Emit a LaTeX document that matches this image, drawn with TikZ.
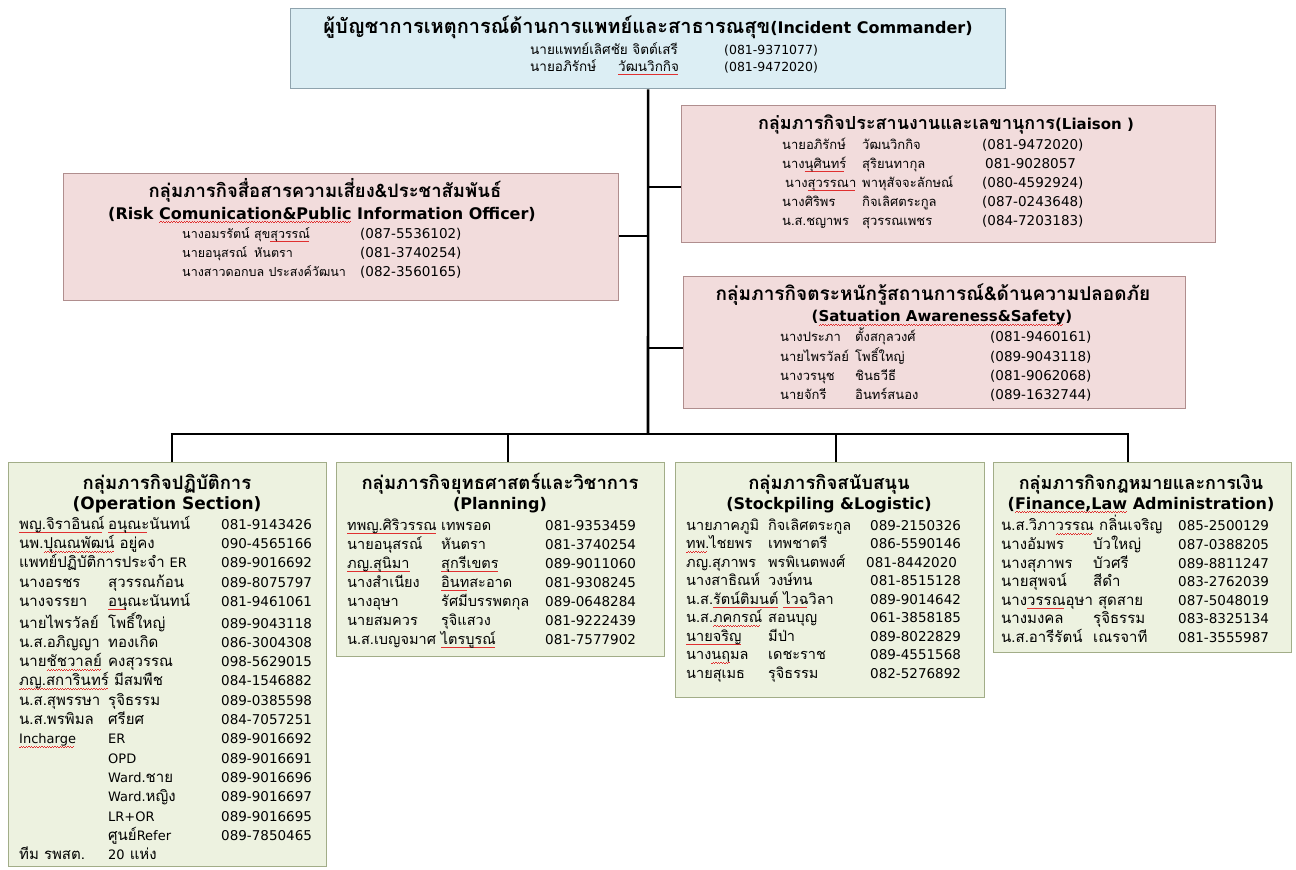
\documentclass[tikz,border=0pt]{standalone}
\usepackage{fontspec}
\setmainfont[Script=Thai]{Loma}
\newfontfamily\lf{DejaVu Sans}
\usepackage{array}
\definecolor{bluefill}{HTML}{DCEEF4}
\definecolor{blueline}{HTML}{8FA3AD}
\definecolor{pinkfill}{HTML}{F2DCDC}
\definecolor{pinkline}{HTML}{B08E8E}
\definecolor{greenfill}{HTML}{EDF2E0}
\definecolor{greenline}{HTML}{A2AD88}
\definecolor{squig}{HTML}{E03030}
\newsavebox\sqbox
\newcommand\sq[1]{\sbox\sqbox{#1}\leavevmode\rlap{\textcolor{squig}{\leaders\hbox{\rule[-3.8pt]{1.3pt}{0.8pt}\rule[-3.2pt]{1.3pt}{0.8pt}}\hskip\wd\sqbox}}\usebox\sqbox}
\newcommand\phfont{\lf\fontsize{13.5}{15}\selectfont}
\newcommand\lt[1]{{\lf\fontsize{13}{15}\selectfont #1}}
\newcolumntype{P}{>{\phfont}l}
\tikzset{
  box/.style={draw, line width=1.3pt, inner sep=0pt, anchor=north west},
  bluebox/.style={box, fill=bluefill, draw=blueline},
  pinkbox/.style={box, fill=pinkfill, draw=pinkline},
  greenbox/.style={box, fill=greenfill, draw=greenline},
  conn/.style={line width=2.6pt, black},
  hd/.style={anchor=base, inner sep=0pt},
  tbl/.style={anchor=north west, inner sep=0pt, align=left},
}
\begin{document}
\begin{tikzpicture}[x=1pt,y=-1pt]
\useasboundingbox (0,0) rectangle (1296,870);
\fill[white] (0,0) rectangle (1296,870);

% ---------- boxes ----------
\node[bluebox, minimum width=715pt, minimum height=80pt] (ic) at (290,8) {};
\node[pinkbox, minimum width=534pt, minimum height=137pt] (liaison) at (681,105) {};
\node[pinkbox, minimum width=555pt, minimum height=127pt] (risk) at (63,173) {};
\node[pinkbox, minimum width=502pt, minimum height=132pt] (safety) at (683,276) {};
\node[greenbox, minimum width=318pt, minimum height=404pt] (ops) at (8,462) {};
\node[greenbox, minimum width=328pt, minimum height=194pt] (plan) at (336,462) {};
\node[greenbox, minimum width=309pt, minimum height=235pt] (stock) at (675,462) {};
\node[greenbox, minimum width=298pt, minimum height=190pt] (fin) at (993,462) {};

% ---------- connectors ----------
\coordinate (bus) at (648,434);
\coordinate (jL) at (648,187);
\coordinate (jR) at (648,236);
\coordinate (jS) at (648,348);
\coordinate (d1) at (172,434);
\coordinate (d2) at (508,434);
\coordinate (d3) at (836,434);
\coordinate (d4) at (1128,434);
\draw[conn] (ic.south) -- (bus);
\draw[conn] (jL) -- (jL -| liaison.west);
\draw[conn] (jR) -- (jR -| risk.east);
\draw[conn] (jS) -- (jS -| safety.west);
\draw[conn] ([xshift=-1.3pt]d1) -- ([xshift=1.3pt]d4);
\draw[conn] (d1) -- (d1 |- ops.north);
\draw[conn] (d2) -- (d2 |- plan.north);
\draw[conn] (d3) -- (d3 |- stock.north);
\draw[conn] (d4) -- (d4 |- fin.north);

% ---------- Incident commander ----------
\node[hd] (icT) at (648,33) {{\bfseries\fontsize{20}{22}\selectfont ผู้บัญชาการเหตุการณ์ด้านการแพทย์และสาธารณสุข}{\lf\bfseries\fontsize{16}{18}\selectfont(Incident Commander)}};
\node[tbl, font=\fontsize{13.5}{16}\selectfont] (icR) at (530,42.8) {%
\begin{tabular}{@{}p{88pt}@{}p{106pt}@{}>{\lf\fontsize{12.5}{14}\selectfont}l@{}}
\multicolumn{2}{@{}l@{}}{นายแพทย์เลิศชัย จิตต์เสรี} & (081-9371077)\\
นายอภิรักษ์ & \sq{วัฒนวิกกิจ} & (081-9472020)
\end{tabular}};

% ---------- Liaison ----------
\node[hd] (liT) at (946,129) {{\bfseries\fontsize{18}{20}\selectfont กลุ่มภารกิจประสานงานและเลขานุการ}{\lf\bfseries\fontsize{15}{17}\selectfont(Liaison )}};
\node[tbl, font=\fontsize{13}{19}\selectfont] (liR) at (782,135.7) {%
\begin{tabular}{@{}p{80pt}@{}p{120pt}@{}P@{}}
นายอภิรักษ์ & วัฒนวิกกิจ & (081-9472020)\\
นาง\sq{นุศินทร์} & สุริยนทากุล & \hspace*{3pt}081-9028057\\
\hspace*{3pt}นาง\sq{สุวรรณา} & พาหุสัจจะลักษณ์ & (080-4592924)\\
นางศิริพร & กิจเลิศตระกูล & (087-0243648)\\
น.ส.ชญาพร & สุวรรณเพชร & (084-7203183)
\end{tabular}};

% ---------- Risk ----------
\node[hd] (rkT) at (325,197.5) {\bfseries\fontsize{18.5}{20}\selectfont กลุ่มภารกิจสื่อสารความเสี่ยง\&ประชาสัมพันธ์};
\node[hd] (rkS) at (322,219) {\lf\bfseries\fontsize{16}{18}\selectfont (Risk \sq{Comunication\&Public} Information Officer)};
\node[tbl, font=\fontsize{12.5}{19}\selectfont] (rkR) at (182,224.7) {%
\begin{tabular}{@{}p{72pt}@{}p{106pt}@{}P@{}}
นางอมรรัตน์ & สุข\sq{สุวรรณ์} & (087-5536102)\\
นายอนุสรณ์ & หันตรา & (081-3740254)\\
\multicolumn{2}{@{}l@{}}{นางสาวดอกบล ประสงค์วัฒนา} & (082-3560165)
\end{tabular}};

% ---------- Safety ----------
\node[hd] (sfT) at (933,300) {\bfseries\fontsize{19}{21}\selectfont กลุ่มภารกิจตระหนักรู้สถานการณ์\&ด้านความปลอดภัย};
\node[hd] (sfS) at (942,321.5) {\lf\bfseries\fontsize{15}{17}\selectfont (\sq{Satuation Awareness\&Safety})};
\node[tbl, font=\fontsize{13}{19.3}\selectfont] (sfR) at (780,327.5) {%
\begin{tabular}{@{}p{75pt}@{}p{135pt}@{}P@{}}
นางประภา & ตั้งสกุลวงศ์ & (081-9460161)\\
นายไพรวัลย์ & โพธิ์ใหญ่ & (089-9043118)\\
นางวรนุช & ชินธวีธี & (081-9062068)\\
นายจักรี & อินทร์สนอง & (089-1632744)
\end{tabular}};

% ---------- bottom boxes ----------
\node[hd] (opT) at (167,489) {\bfseries\fontsize{18.5}{20}\selectfont กลุ่มภารกิจปฏิบัติการ};
\node[hd] (opS) at (167,509) {\lf\bfseries\fontsize{17}{19}\selectfont (Operation Section)};
\node[tbl, font=\fontsize{15}{19.3}\selectfont] (opR) at (19,515.5) {%
\begin{tabular}{@{}p{89pt}@{}p{113pt}@{}P@{}}
\sq{พญ.จิราอินณ์} & \sq{อนุณะ}นันทน์ & 081-9143426\\
\multicolumn{2}{@{}l@{}}{นพ.\sq{ปุณณพัฒน์} อยู่คง} & 090-4565166\\
\multicolumn{2}{@{}l@{}}{แพทย์ปฏิบัติการประจำ \lt{ER}} & 089-9016692\\
นางอรชร & สุวรรณก้อน & 089-8075797\\
นางจรรยา & \sq{อนุ}ณะนันทน์ & 081-9461061\\
นายไพรวัลย์ & โพธิ์ใหญ่ & 089-9043118\\
น.ส.อภิญญา & ทองเกิด & 086-3004308\\
นาย\sq{ชัชวาลย์} & คงสุวรรณ & 098-5629015\\
\multicolumn{2}{@{}l@{}}{\sq{ภญ.สการินทร์} มีสมพืช} & 084-1546882\\
น.ส.สุพรรษา & รุจิธรรม & 089-0385598\\
น.ส.พรพิมล & ศรียศ & 084-7057251\\
\sq{\lt{Incharge}} & \lt{ER} & 089-9016692\\
 & \lt{OPD} & 089-9016691\\
 & \lt{Ward.}ชาย & 089-9016696\\
 & \lt{Ward.}หญิง & 089-9016697\\
 & \lt{LR+OR} & 089-9016695\\
 & ศูนย์\lt{Refer} & 089-7850465\\
ทีม รพสต. & \lt{20} แห่ง &
\end{tabular}};

\node[hd] (plT) at (500,489) {\bfseries\fontsize{18.5}{20}\selectfont กลุ่มภารกิจยุทธศาสตร์และวิชาการ};
\node[hd] (plS) at (500,509) {\lf\bfseries\fontsize{16}{18}\selectfont (Planning)};
\node[tbl, font=\fontsize{14.5}{19}\selectfont] (plR) at (347,516.7) {%
\begin{tabular}{@{}p{94pt}@{}p{104pt}@{}P@{}}
\sq{ทพญ.ศิริวรรณ} & เทพรอด & 081-9353459\\
นายอนุสรณ์ & หันตรา & 081-3740254\\
\sq{ภญ.สุนิมา} & \sq{สุกรีเขตร} & 089-9011060\\
นางสำเนียง & \sq{อินท}สะอาด & 081-9308245\\
นางอุษา & รัศมีบรรพตกุล & 089-0648284\\
นายสมควร & รุจิแสวง & 081-9222439\\
\multicolumn{2}{@{}l@{}}{น.ส.เบญจมาศ \sq{ไตรบูรณ์}} & 081-7577902
\end{tabular}};

\node[hd] (stT) at (829,489) {\bfseries\fontsize{18.5}{20}\selectfont กลุ่มภารกิจสนับสนุน};
\node[hd] (stS) at (829,509) {\lf\bfseries\fontsize{16}{18}\selectfont (Stockpiling \&Logistic)};
\node[tbl, font=\fontsize{14.5}{18.5}\selectfont] (stR) at (686,517.05) {%
\begin{tabular}{@{}p{82pt}@{}p{102pt}@{}P@{}}
นายภาคภูมิ & กิจเลิศตระกูล & 089-2150326\\
\sq{ทพ.}ไชยพร & เทพชาตรี & 086-5590146\\
ภญ.สุภาพร & พรพิเนตพงศ์ & \hspace*{-4pt}081-8442020\\
นางสาธิณห์ & วงษ์ทน & 081-8515128\\
\multicolumn{2}{@{}l@{}}{น.ส.\sq{รัตน์ติมนต์} \sq{ไวฉ}วิลา} & 089-9014642\\
น.ส.\sq{ภคกรณ์} & สอนบุญ & 061-3858185\\
\sq{นายจริญ} & มีป่า & 089-8022829\\
นาง\sq{นฤ}มล & เดชะราช & 089-4551568\\
นายสุเมธ & รุจิธรรม & 082-5276892
\end{tabular}};

\node[hd] (fnT) at (1141,489) {\bfseries\fontsize{18}{20}\selectfont กลุ่มภารกิจกฎหมายและการเงิน};
\node[hd] (fnS) at (1141,509) {\lf\bfseries\fontsize{16}{18}\selectfont (\sq{Finance,Law} Administration)};
\node[tbl, font=\fontsize{15}{18.5}\selectfont] (fnR) at (1001,515.05) {%
\begin{tabular}{@{}p{92pt}@{}p{85pt}@{}P@{}}
\multicolumn{2}{@{}l@{}}{น.ส.วิภา\sq{วรรณ} กลิ่นเจริญ} & 085-2500129\\
นางอัมพร & บัวใหญ่ & 087-0388205\\
นางสุภาพร & บัวศรี & 089-8811247\\
นายสุพจน์ & สีดำ & 083-2762039\\
\multicolumn{2}{@{}l@{}}{นาง\sq{วรรณ}อุษา สุดสาย} & 087-5048019\\
นางมงคล & รุจิธรรม & 083-8325134\\
น.ส.อารีรัตน์ & เณรจาที & 081-3555987
\end{tabular}};
\end{tikzpicture}
\end{document}
